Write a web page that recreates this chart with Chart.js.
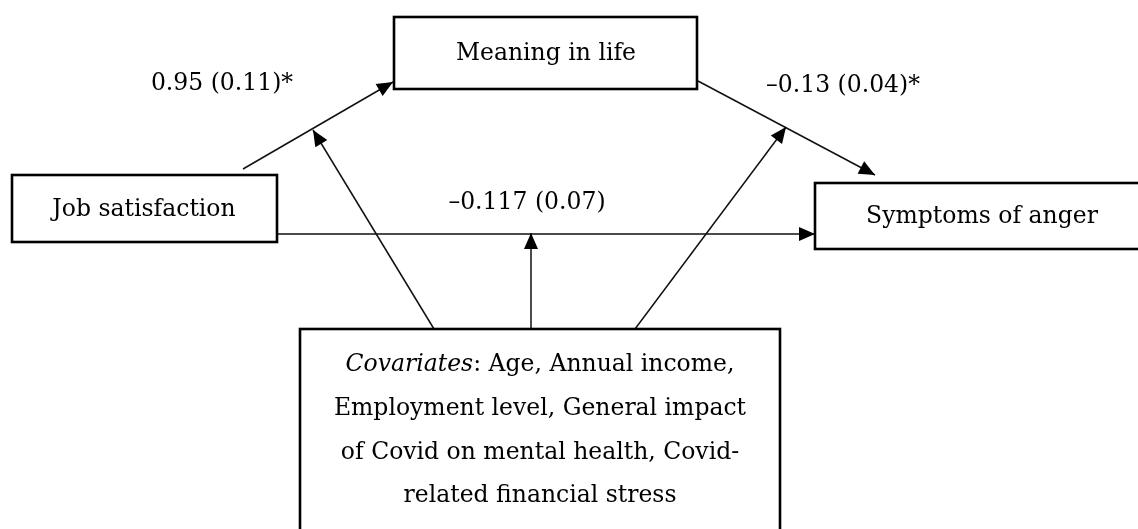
<!DOCTYPE html>
<html>
<head>
<meta charset="utf-8">
<script src="https://cdn.jsdelivr.net/npm/chart.js@4/dist/chart.umd.min.js"></script>
<style>
  html, body { margin: 0; padding: 0; background: #fff; }
  #wrap { width: 1138px; height: 529px; position: relative; }
</style>
</head>
<body>
<div id="wrap"><canvas id="diagram"></canvas></div>
<script>
// boxes (diagram units = picture pixels)
const boxNames = ['Meaning in life', 'Job satisfaction', 'Symptoms of anger', 'Covariates'];
const boxLeft = [394, 12, 815, 300];
const boxTop = [17, 175, 183, 329];
const boxRight = [697, 277, 1142, 780];
const boxBottom = [89, 242, 249, 535];
const labelCenterX = [546, 144, 982];

// covariates box text, first word in italics
const covariateLead = 'Covariates';
const covariateLines = [
    ': Age, Annual income,',
    'Employment level, General impact',
    'of Covid on mental health, Covid-',
    'related financial stress'
];
const covariateBaselines = [371, 415, 459, 502];

// paths: start -> end (arrow at end)
const pathFromX = [243, 698, 277, 434, 531, 635];
const pathFromY = [169, 81, 234, 329, 329, 329];
const pathToX = [393, 875, 815, 313, 531, 786];
const pathToY = [82, 175, 234, 130, 233, 127];

// path coefficients
const coefLabels = ['0.95 (0.11)*', '\u20130.13 (0.04)*', '\u20130.117 (0.07)'];
const coefX = [222, 843, 527];
const coefY = [84, 86, 203];

const FONT = '"DejaVu Serif", serif';
const SIZE = '23.5px ';
const INK = '#000';

const pathDatasets = pathFromX.map((x, i) => ({
    data: [{ x: x, y: pathFromY[i] }, { x: pathToX[i], y: pathToY[i] }],
    showLine: true,
    pointRadius: 0,
    borderColor: '#111',
    borderWidth: 1.5,
    tension: 0
}));

const diagramPlugin = {
    id: 'diagram',
    afterDatasetsDraw(chart) {
        const ctx = chart.ctx;
        const sx = chart.scales.x, sy = chart.scales.y;
        const px = v => sx.getPixelForValue(v);
        const py = v => sy.getPixelForValue(v);
        ctx.save();

        // arrowheads
        ctx.fillStyle = INK;
        pathToX.forEach((tx, i) => {
            const x1 = px(pathFromX[i]), y1 = py(pathFromY[i]);
            const x2 = px(tx), y2 = py(pathToY[i]);
            const a = Math.atan2(y2 - y1, x2 - x1);
            const len = 16, half = 7;
            ctx.beginPath();
            ctx.moveTo(x2, y2);
            ctx.lineTo(x2 - len * Math.cos(a) + half * Math.sin(a), y2 - len * Math.sin(a) - half * Math.cos(a));
            ctx.lineTo(x2 - len * Math.cos(a) - half * Math.sin(a), y2 - len * Math.sin(a) + half * Math.cos(a));
            ctx.closePath();
            ctx.fill();
        });

        // boxes
        ctx.lineWidth = 2.6;
        ctx.strokeStyle = INK;
        boxNames.forEach((name, i) => {
            const l = px(boxLeft[i]), t = py(boxTop[i]);
            const w = px(boxRight[i]) - l, h = py(boxBottom[i]) - t;
            ctx.fillStyle = '#fff';
            ctx.fillRect(l, t, w, h);
            ctx.strokeRect(l, t, w, h);
        });

        // box labels
        ctx.fillStyle = INK;
        ctx.font = SIZE + FONT;
        ctx.textAlign = 'center';
        ctx.textBaseline = 'middle';
        for (let i = 0; i < 3; i++) {
            const cy = (py(boxTop[i]) + py(boxBottom[i])) / 2;
            ctx.fillText(boxNames[i], px(labelCenterX[i]), cy + 1);
        }

        // covariates text
        const cx = (px(boxLeft[3]) + px(boxRight[3])) / 2;
        ctx.textBaseline = 'alphabetic';
        covariateLines.forEach((line, i) => {
            const y = py(covariateBaselines[i]);
            if (i === 0) {
                ctx.font = 'italic ' + SIZE + FONT;
                const w1 = ctx.measureText(covariateLead).width;
                ctx.font = SIZE + FONT;
                const w2 = ctx.measureText(line).width;
                const start = cx - (w1 + w2) / 2;
                ctx.textAlign = 'left';
                ctx.font = 'italic ' + SIZE + FONT;
                ctx.fillText(covariateLead, start, y);
                ctx.font = SIZE + FONT;
                ctx.fillText(line, start + w1, y);
            } else {
                ctx.textAlign = 'center';
                ctx.font = SIZE + FONT;
                ctx.fillText(line, cx, y);
            }
        });

        // coefficients
        ctx.font = SIZE + FONT;
        ctx.textAlign = 'center';
        ctx.textBaseline = 'middle';
        coefLabels.forEach((lab, i) => {
            ctx.fillText(lab, px(coefX[i]), py(coefY[i]));
        });

        ctx.restore();
    }
};

new Chart(document.getElementById('diagram'), {
    type: 'scatter',
    data: { datasets: pathDatasets },
    options: {
        responsive: true,
        maintainAspectRatio: false,
        animation: false,
        layout: { padding: 0 },
        plugins: { legend: { display: false }, tooltip: { enabled: false } },
        scales: {
            x: { type: 'linear', min: 0, max: 1138, display: false },
            y: { type: 'linear', min: 0, max: 529, reverse: true, display: false }
        }
    },
    plugins: [diagramPlugin]
});
</script>
</body>
</html>
